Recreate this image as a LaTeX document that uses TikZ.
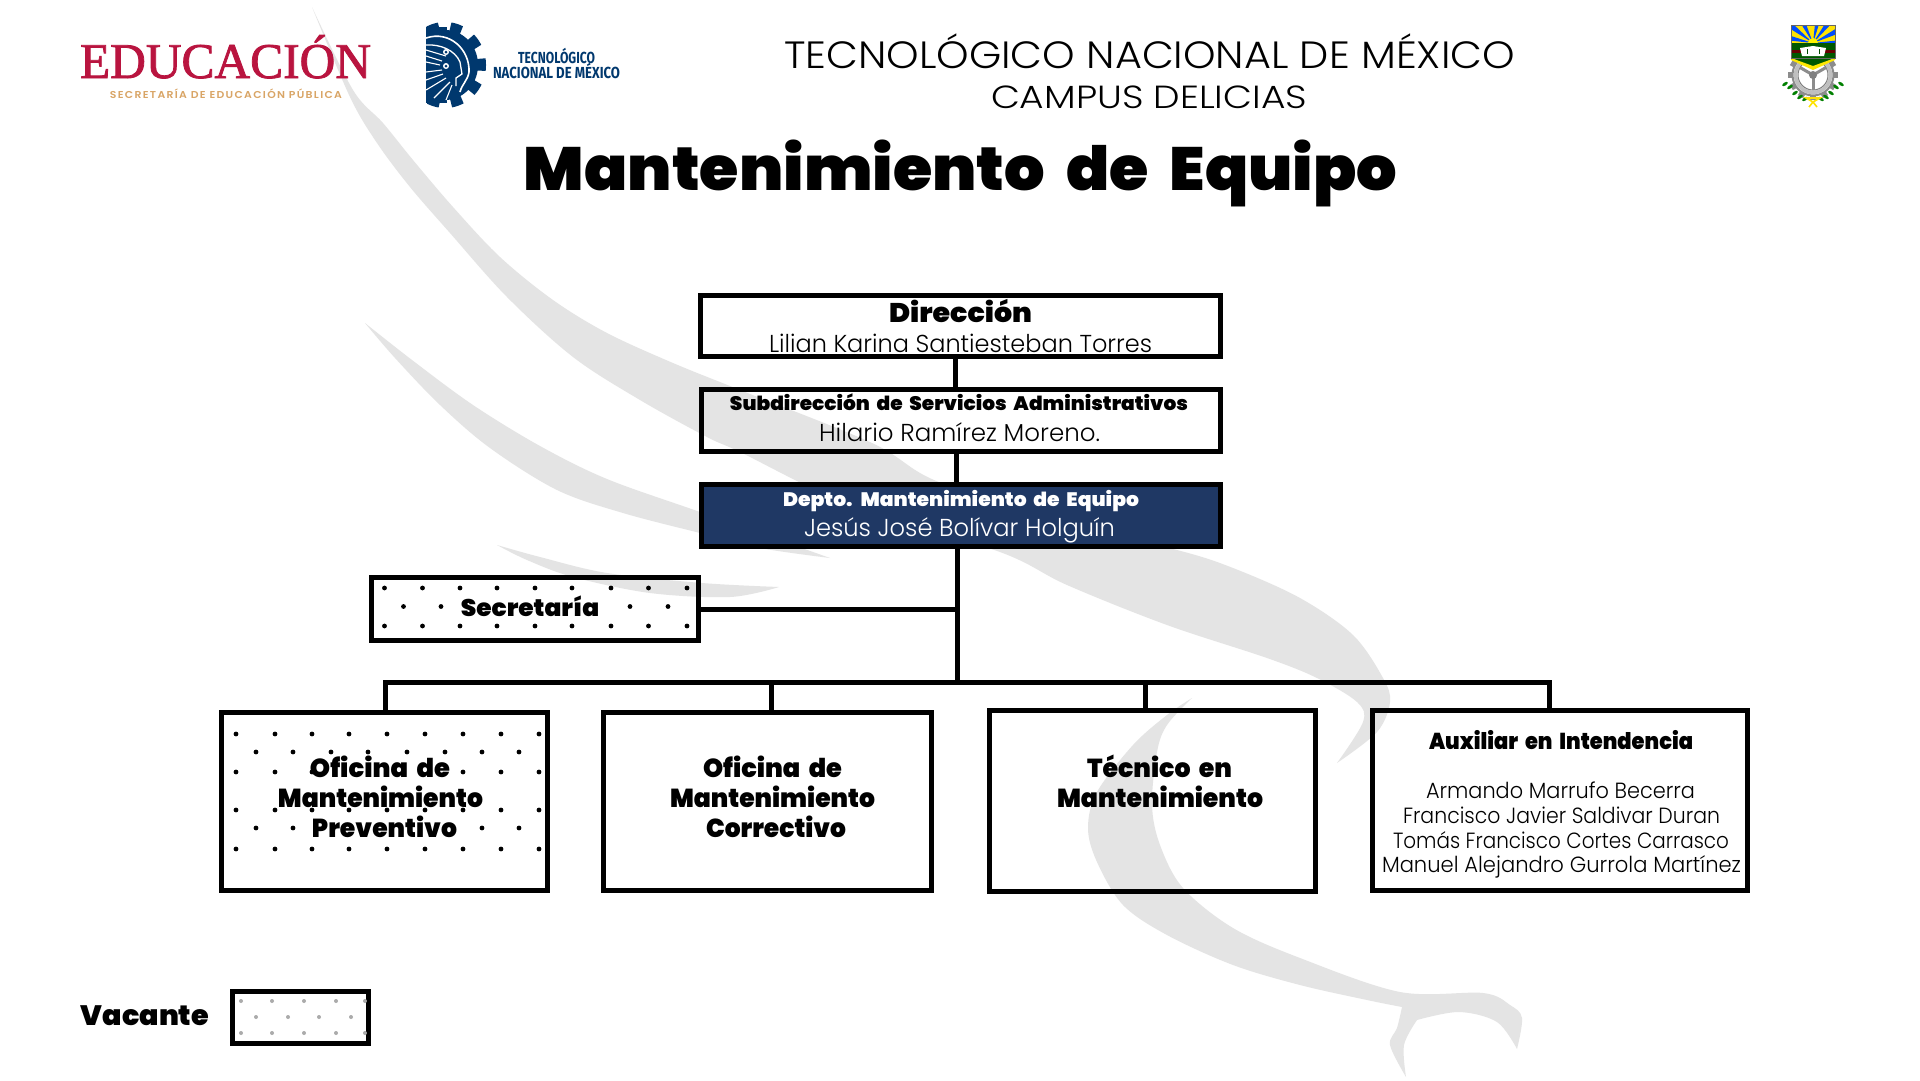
\documentclass[tikz,border=0pt]{standalone}
\usepackage{fontspec}
\usepackage{graphicx}
\setmainfont{Poppins}
\newfontfamily\fblack{Poppins}[UprightFont={* Black}]
\newfontfamily\flight{Poppins}[UprightFont={* Light}]
\newfontfamily\fserif{Liberation Serif}[FakeBold=1.6]
\newfontfamily\fnarrow{Fira Sans}
\newfontfamily\fsep{Poppins}[UprightFont={* SemiBold},LetterSpace=12]
\definecolor{wm}{HTML}{E4E4E4}
\definecolor{navyb}{HTML}{1F3864}
\definecolor{navyl}{HTML}{00386E}
\definecolor{edured}{HTML}{B9143F}
\definecolor{edugold}{HTML}{D9A566}
\newcommand\fitw[2]{\resizebox{#1pt}{\height}{#2}}
\newcommand\blk[1]{\fontsize{#1}{#1}\selectfont\fblack\spaceskip=.33em\relax}
\newcommand\lgt[1]{\fontsize{#1}{#1}\selectfont\flight}
\tikzset{
  boxn/.style={draw=black,line width=5pt,inner sep=0pt,outer sep=0pt,rectangle},
  link/.style={draw=black,line width=5pt},
  txt/.style={anchor=base,inner sep=0pt,outer sep=0pt,text=black},
  wmark/.style={fill=wm,draw=none},
  edge/.style={smooth,tension=0.55},
  dotk/.style={fill=black},
  dotg/.style={fill=black!33},
}
\begin{document}
\begin{tikzpicture}[x=1pt,y=-1pt]
\useasboundingbox (0,0) rectangle (1920,1080);
\fill[white] (0,0) rectangle (1920,1080);
% watermark: main wing
\fill[wmark] plot[edge] coordinates {(312,7)(353,90)(383,123)(413,160)(453,207)(500,257)(553,300)(607,333)(673,363)(740,390)(872,443)(934,480)(1050,520)(1177,550)(1233,568)(1300,598)(1353,635)(1383,678)(1390,702)(1377,732)(1337,763)}
  -- plot[edge] coordinates {(1337,763)(1363,722)(1357,702)(1317,678)(1267,658)(1167,625)(1067,585)(1000,552)(850,505)(740,452)(707,437)(640,400)(573,357)(507,297)(450,233)(410,187)(377,143)(350,97)(312,7)} -- cycle;
% second feather
\fill[wmark] plot[edge] coordinates {(365,323)(412,360)(473,405)(540,446)(607,479)(700,512)(830,558)}
  -- plot[edge] coordinates {(830,558)(760,548)(700,533)(623,513)(557,490)(490,448)(440,405)(395,358)(365,323)} -- cycle;
% third feather
\fill[wmark] plot[edge] coordinates {(497,545)(540,557)(607,573)(702,583)(779,587)}
  -- plot[edge] coordinates {(779,587)(730,597)(650,593)(573,577)(527,560)(497,545)} -- cycle;
% lower curve with claw
\fill[wmark] plot[edge] coordinates {(1192,698)(1167,715)(1133,745)(1097,792)(1088,828)(1097,862)(1123,905)(1167,935)(1233,965)(1300,985)(1367,1000)(1402,1007)}
  -- plot[edge] coordinates {(1402,1007)(1397,1028)(1390,1045)(1406,1077)}
  -- plot[edge] coordinates {(1406,1077)(1404,1045)(1417,1020)}
  -- plot[edge] coordinates {(1417,1020)(1459,1012)(1497,1022)(1517,1049)}
  -- plot[edge] coordinates {(1517,1049)(1522,1018)(1510,1005)(1483,993)(1400,992)(1300,958)(1233,928)(1183,888)(1160,845)(1152,805)(1157,752)(1167,725)(1192,698)} -- cycle;
% EDUCACION logo
\node[txt,text=edured] (edu) at (225.5,78) {\fitw{291}{\fontsize{50}{50}\selectfont\fserif EDUCACIÓN}};
\node[txt,text=edugold] (sep) at (226,98.5) {\fitw{232}{\fontsize{10}{10}\selectfont\fsep SECRETARÍA DE EDUCACIÓN PÚBLICA}};
% TecNM gear
\begin{scope}
\clip (426,15) rectangle (500,115);
\fill[navyl] plot[samples=361,domain=0:360] ({445+(mod(\x+9,36)<18?41:33)*cos(\x)},{65+(mod(\x+9,36)<18?43:35)*sin(\x)});
\fill[navyl] (426,27) rectangle (447,103);
\draw[white,line width=1.6pt] (426,38) .. controls (450,30) and (470,50) .. (469,72) .. controls (468,80) and (462,84) .. (460,92);
\draw[white,line width=1.3pt] (426,45) .. controls (440,44) and (455,50) .. (460,62) -- (462,74) -- (456,78) -- (456,86);
\draw[white,line width=1.1pt] (426,50) -- (446,56);
\draw[white,line width=1.1pt] (426,56) -- (442,61);
\draw[white,line width=1.1pt] (426,62) -- (440,65);
\draw[white,line width=1.1pt] (426,72) -- (442,70);
\draw[white,line width=1.1pt] (426,80) -- (443,74);
\draw[white,line width=1.1pt] (426,90) -- (446,78);
\draw[white,line width=1.1pt] (434,98) -- (450,82);
\draw[white,line width=1.1pt] (446,100) -- (452,85);
\fill[white] (446,52) circle (3); \fill[navyl] (446,52) circle (1.5);
\fill[white] (446,66) circle (3); \fill[navyl] (446,66) circle (1.5);
\end{scope}
\node[txt,text=navyl] (tec1) at (556.5,63) {\fitw{77}{\fontsize{16}{16}\selectfont\fnarrow\bfseries TECNOLÓGICO}};
\node[txt,text=navyl] (tec2) at (556.5,78) {\fitw{127}{\fontsize{16}{16}\selectfont\fnarrow\bfseries NACIONAL DE MÉXICO}};
% Crest
\foreach \a in {0,30,...,330}{\fill[black!45,rotate around={\a:(1813,75)}] (1810,50) rectangle (1816,56);}
\draw[black!45,line width=2pt,fill=white] (1813,75) circle (20.5);
\draw[black!25,line width=3.5pt] (1813,75) circle (17.5);
\draw[black!50,line width=1pt] (1813,75) circle (15);
\foreach \a in {90,210,330}{\draw[black!45,line width=3pt] (1813,75) -- ++(\a:15);}
\fill[black!50] (1813,75) circle (4);
\begin{scope}
\clip (1791,25) rectangle (1835,43);
\fill[yellow!85!orange] (1791,25) rectangle (1835,43);
\foreach \a in {186,212,238,276,302,328,354}{\fill[blue!70!cyan] (1813,43) -- ++(\a:34) -- ++(\a+90:7) -- cycle;}
\fill[yellow] (1813,43) circle (5);
\end{scope}
\fill[green!35!black] (1791,43) -- (1835,43) -- (1835,58) -- (1813,67) -- (1791,58) -- cycle;
\fill[red!40!black] (1791,50) -- (1835,50) -- (1835,53) -- (1791,53) -- cycle;
\fill[yellow!90!orange] (1791,58) -- (1813,66) -- (1835,58) -- (1835,60) -- (1813,70) -- (1791,60) -- cycle;
\fill[white] (1800,48) -- (1813,46) -- (1826,48) -- (1824,56) -- (1802,56) -- cycle;
\draw[green!30!black,line width=.8pt] (1807,49) -- (1807,54) (1819,49) -- (1819,54);
\draw[black!60,line width=1pt] (1791,25) rectangle (1835,58);
\foreach \a/\b in {1785/84,1790/87,1795/93,1800/97,1805/99}{\fill[green!50!black,rotate around={35:(\a,\b)}] (\a,\b) ellipse (3.2 and 1.5);}
\foreach \a/\b in {1841/84,1836/87,1831/93,1826/97,1821/99}{\fill[green!50!black,rotate around={-35:(\a,\b)}] (\a,\b) ellipse (3.2 and 1.5);}
\draw[yellow!85!orange,line width=1.6pt] (1806,98) -- (1813,102) -- (1820,98) -- cycle (1813,102) -- (1809,107) (1813,102) -- (1817,107);
% Header and title
\node[txt] (h1) at (1149.5,68) {\fitw{731}{\lgt{38}TECNOLÓGICO NACIONAL DE MÉXICO}};
\node[txt] (h2) at (1149,108) {\fitw{316}{\lgt{32}CAMPUS DELICIAS}};
\node[txt] (title) at (960.5,190) {\fitw{873}{\blk{61}Mantenimiento de Equipo}};
% Boxes
\node[boxn,minimum width=520.5pt,minimum height=61.5pt] (dir) at (960.5,326) {};
\node[boxn,minimum width=519.5pt,minimum height=62.5pt] (sub) at (961,420.5) {};
\node[boxn,fill=navyb,minimum width=519.5pt,minimum height=62.5pt] (dep) at (961,515.5) {};
\node[boxn,minimum width=327.5pt,minimum height=63.5pt] (sec) at (535,609) {};
\node[boxn,minimum width=326.5pt,minimum height=178.5pt] (ofp) at (384.5,801.5) {};
\node[boxn,minimum width=328.5pt,minimum height=178.5pt] (ofc) at (767.5,801.5) {};
\node[boxn,minimum width=326.5pt,minimum height=181.5pt] (tec) at (1152.5,801) {};
\node[boxn,minimum width=375.5pt,minimum height=180.5pt] (aux) at (1560,800.5) {};
\node[boxn,minimum width=136.5pt,minimum height=52.5pt] (vac) at (300.5,1017.5) {};
% Connectors
\coordinate (ta) at (955.5,340);
\coordinate (tb) at (956.5,440);
\coordinate (tc) at (957,684);
\coordinate (busL) at (385.5,682);
\coordinate (busR) at (1549.5,682);
\coordinate (dc) at (771,682);
\coordinate (dt) at (1145,680);
\draw[link] (ta |- dir.south) -- (ta |- sub.north);
\draw[link] (tb |- sub.south) -- (tb |- dep.north);
\draw[link] (tc |- dep.south) -- (tc);
\draw[link] (sec.east) -- (sec.east -| tc);
\draw[link] (busL |- ofp.north) -- (busL) -- (busR) -- (busR |- aux.north);
\draw[link] (dc) -- (dc |- ofc.north);
\draw[link] (dt) -- (dt |- tec.north);
% Dots
\foreach \y in {588,626}{\foreach \x in {384.5,422.5,460,497,535,572,611,648.5,687}{\fill[dotk] (\x,\y) circle (2.4);}}
\foreach \x in {403.5,441,630,668}{\fill[dotk] (\x,606.5) circle (2.4);}
\foreach \y in {734,810,849}{\foreach \x in {236,275,312,349,387,425,463,501,539}{\fill[dotk] (\x,\y) circle (2.4);}}
\foreach \x in {256,293,331,368,407,445,482,519}{\fill[dotk] (\x,752) circle (2.4);}
\foreach \x in {236,275,312,463,501,539}{\fill[dotk] (\x,772) circle (2.4);}
\foreach \x in {256,293,482,519}{\fill[dotk] (\x,828) circle (2.4);}
\foreach \y in {1001,1033}{\foreach \x in {241,272,304,336,365}{\fill[dotg] (\x,\y) circle (2);}}
\foreach \x in {256,288,319,351}{\fill[dotg] (\x,1017) circle (2);}
% Box texts
\node[txt] (t1) at (960.5,322) {\fitw{143}{\blk{27}Dirección}};
\node[txt] (t2) at (960.5,352) {\fitw{383}{\lgt{24.5}Lilian Karina Santiesteban Torres}};
\node[txt] (t3) at (959,410) {\fitw{458}{\blk{19.5}Subdirección de Servicios Administrativos}};
\node[txt] (t4) at (959.5,441) {\fitw{281}{\lgt{24.5}Hilario Ramírez Moreno.}};
\node[txt,text=white] (t5) at (961,506) {\fitw{356}{\blk{19.5}Depto. Mantenimiento de Equipo}};
\node[txt,text=white] (t6) at (959.5,536) {\fitw{311}{\lgt{24.5}Jesús José Bolívar Holguín}};
\node[txt] (t7) at (530,616) {\fitw{138.5}{\blk{24}Secretaría}};
\node[txt] (t8) at (380,777) {\fitw{140}{\blk{26}Oficina de}};
\node[txt] (t9) at (380.5,807) {\fitw{205}{\blk{26}Mantenimiento}};
\node[txt] (t10) at (384.5,837) {\fitw{145}{\blk{26}Preventivo}};
\node[txt] (t11) at (772.5,777) {\fitw{139}{\blk{26}Oficina de}};
\node[txt] (t12) at (772.5,807) {\fitw{205}{\blk{26}Mantenimiento}};
\node[txt] (t13) at (776,837) {\fitw{140}{\blk{26}Correctivo}};
\node[txt] (t14) at (1159.5,777) {\fitw{145}{\blk{26}Técnico en}};
\node[txt] (t15) at (1160,807) {\fitw{206}{\blk{26}Mantenimiento}};
\node[txt] (t16) at (1561,749) {\fitw{264}{\blk{23}Auxiliar en Intendencia}};
\node[txt] (t17) at (1560.5,798) {\fitw{269}{\lgt{22}Armando Marrufo Becerra}};
\node[txt] (t18) at (1561.5,823) {\fitw{317}{\lgt{22}Francisco Javier Saldivar Duran}};
\node[txt] (t19) at (1561,848) {\fitw{336}{\lgt{22}Tomás Francisco Cortes Carrasco}};
\node[txt] (t20) at (1561.5,872) {\fitw{359}{\lgt{22}Manuel Alejandro Gurrola Martínez}};
\node[txt] (t21) at (145,1025) {\fitw{128}{\blk{28}Vacante}};
\end{tikzpicture}
\end{document}
